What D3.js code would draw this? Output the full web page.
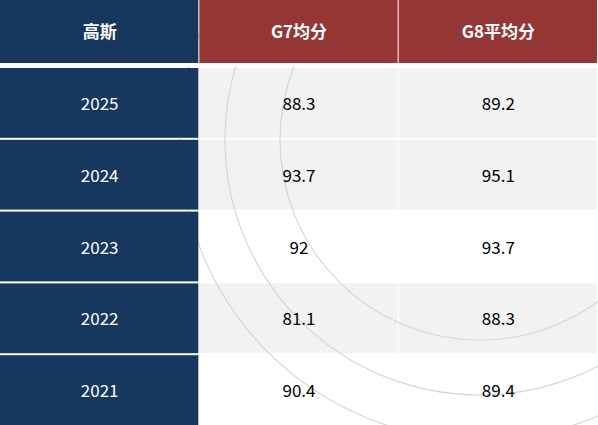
<!DOCTYPE html><html><head><meta charset="utf-8"><script src="https://cdn.jsdelivr.net/npm/d3@7"></script>
<style>body{margin:0;background:#fff}</style></head><body><svg id="c" width="598" height="425"></svg><script>
const headers=["高斯","G7均分","G8平均分"];
const years=["2025","2024","2023","2022","2021"];
const g7=[88.3,93.7,92,81.1,90.4];
const g8=[89.2,95.1,93.7,88.3,89.4];
const rowFill=["#f2f2f2","#f2f2f2","#ffffff","#f2f2f2","#ffffff"];
const svg=d3.select("#c");
const font="'Microsoft YaHei','Noto Sans CJK SC','Noto Sans',sans-serif";
const x=d3.scaleBand().domain([0,1,2]).range([0,598]);
const y=d3.scaleBand().domain(d3.range(5)).range([66,425]);
years.forEach((yr,r)=>{
 [g7[r],g8[r]].forEach((v,k)=>{const c=k+1;
  svg.append("rect").attr("x",x(c)).attr("y",y(r)+2).attr("width",x.bandwidth()-1).attr("height",y.bandwidth()-2).attr("fill",rowFill[r]);
 });
});
const g=svg.append("g").attr("fill","none").attr("stroke","#d6d6d6").attr("stroke-width",1.2);
[{cx:480,cy:140,r:255},{cx:480,cy:140,r:200},{cx:480,cy:140,r:300}].forEach(d=>g.append("circle").attr("cx",d.cx).attr("cy",d.cy).attr("r",d.r));
svg.selectAll("rect.h").data(headers).join("rect").attr("x",(d,i)=>x(i)).attr("y",0).attr("width",x.bandwidth()-1).attr("height",63)
 .attr("fill",(d,i)=>i==0?"#17375e":"#943634");
svg.selectAll("text.h").data(headers).join("text").attr("x",(d,i)=>x(i)+x.bandwidth()/2).attr("y",38).attr("text-anchor","middle")
 .attr("fill","#fff").attr("font-weight","bold").attr("font-size",17).attr("font-family",font).text(d=>d);
svg.append("rect").attr("x",0).attr("y",63).attr("width",598).attr("height",3).attr("fill","#fff");
years.forEach((yr,r)=>{
 [yr,g7[r],g8[r]].forEach((v,c)=>{
  if(c==0) svg.append("rect").attr("x",0).attr("y",y(r)+2).attr("width",x.bandwidth()-1).attr("height",y.bandwidth()-2).attr("fill","#17375e");
  svg.append("text").attr("x",x(c)+x.bandwidth()/2).attr("y",y(r)+2+y.bandwidth()/2+6).attr("text-anchor","middle")
   .attr("fill",c==0?"#fff":"#000").attr("font-size",17).attr("font-family",font).text(String(v));
 });
});
</script></body></html>
